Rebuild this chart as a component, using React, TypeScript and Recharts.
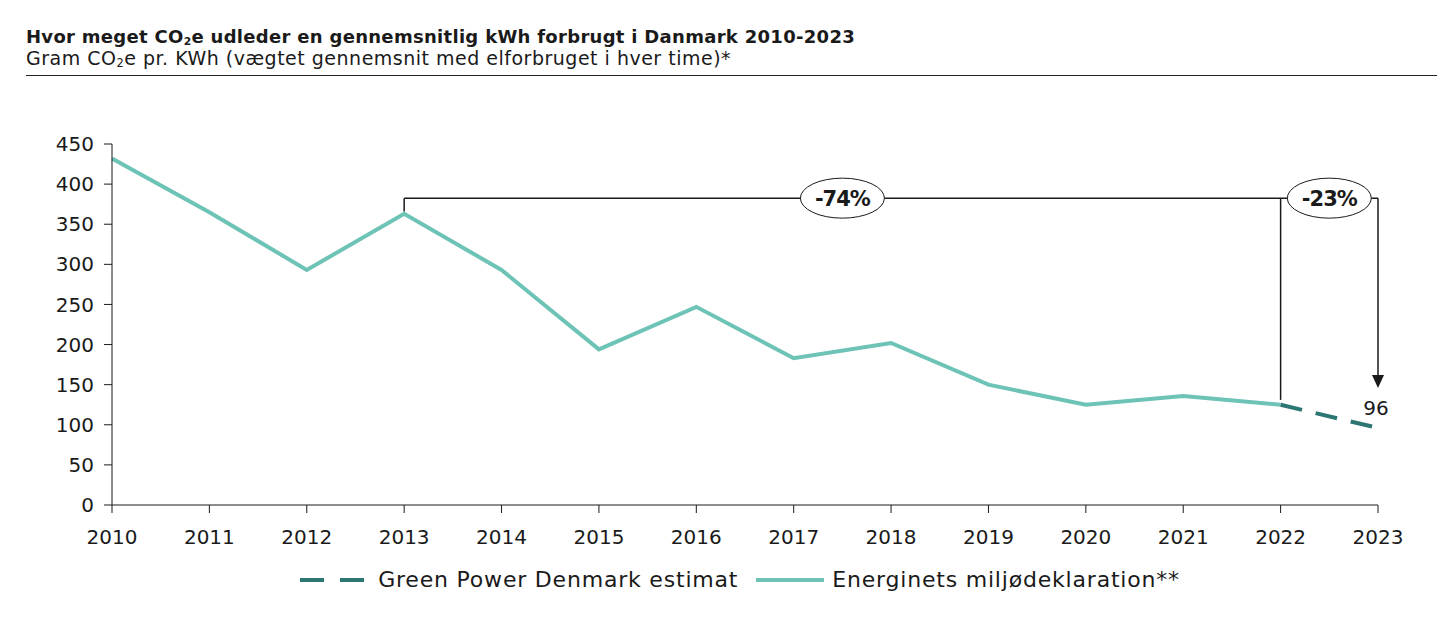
import { LineChart, Line, XAxis, YAxis, Legend, ReferenceLine, ReferenceDot, LabelList } from "recharts";

const years = [2010, 2011, 2012, 2013, 2014, 2015, 2016, 2017, 2018, 2019, 2020, 2021, 2022, 2023];
const energinet = [432, 365, 293, 363, 293, 194, 247, 183, 202, 150, 125, 136, 125, null];
const estimat = [null, null, null, null, null, null, null, null, null, null, null, null, 125, 96];
const yTicks = [0, 50, 100, 150, 200, 250, 300, 350, 400, 450];

const data = years.map((year, i) => ({ year, energinet: energinet[i], estimat: estimat[i] }));

const FONT = "'DejaVu Sans', sans-serif";
const TEAL = "#6DC3B6";
const DARK = "#2D7773";
const INK = "#1a1a1a";

const Bubble = (text: string) => (props: any) => {
  const { cx, cy } = props;
  return (
    <g>
      <ellipse cx={cx} cy={cy} rx={42} ry={20} fill="#fff" stroke={INK} strokeWidth={1} />
      <text x={cx} y={cy + 8} textAnchor="middle" fontFamily={FONT} fontWeight={700} fontSize={21} fill={INK} letterSpacing={-1}>
        {text}
      </text>
    </g>
  );
};

const ArrowHead = (props: any) => {
  const { cx, cy } = props;
  return <path d={`M${cx - 6},${cy - 13} L${cx + 6},${cy - 13} L${cx},${cy} Z`} fill={INK} />;
};

const renderLegend = () => (
  <div style={{ display: "flex", justifyContent: "center", alignItems: "center", fontFamily: FONT, fontSize: 22, letterSpacing: 0.8, color: INK, gap: 18, paddingLeft: 50 }}>
    <span style={{ display: "flex", alignItems: "center", gap: 8 }}>
      <svg width={70} height={10}>
        <line x1={0} y1={5} x2={70} y2={5} stroke={DARK} strokeWidth={4} strokeDasharray="24 16" />
      </svg>
      Green Power Denmark estimat
    </span>
    <span style={{ display: "flex", alignItems: "center", gap: 8 }}>
      <svg width={68} height={10}>
        <line x1={0} y1={5} x2={68} y2={5} stroke={TEAL} strokeWidth={4} />
      </svg>
      Energinets miljødeklaration**
    </span>
  </div>
);

const lastLabel = (props: any) => {
  const { x, y, index, value } = props;
  if (index !== 13) return null;
  return (
    <text x={x - 2} y={y - 13} textAnchor="middle" fontFamily={FONT} fontSize={20} fill={INK}>
      {value}
    </text>
  );
};

const subStyle = { fontSize: "0.6em", position: "relative" as const, top: "0.15em", lineHeight: 0, verticalAlign: "baseline" };

export default function App() {
  return (
    <div style={{ position: "relative", width: 1439, height: 609, fontFamily: FONT }}>
      <div style={{ position: "absolute", left: 18, top: 19, fontSize: 18, fontWeight: 700, color: INK, whiteSpace: "nowrap", lineHeight: "20px", letterSpacing: 0.3 }}>
        Hvor meget CO<span style={subStyle}>2</span>e udleder en gennemsnitlig kWh forbrugt i Danmark 2010-2023
      </div>
      <div style={{ position: "absolute", left: 18, top: 40, fontSize: 19, color: INK, whiteSpace: "nowrap", lineHeight: "20px", letterSpacing: 0.5 }}>
        Gram CO<span style={subStyle}>2</span>e pr. KWh (vægtet gennemsnit med elforbruget i hver time)*
      </div>
      <div style={{ position: "absolute", left: 18, top: 67, width: 1411, borderTop: "1px solid #222" }} />
      <div style={{ position: "absolute", left: 0, top: 100 }}>
        <LineChart width={1420} height={509} data={data} margin={{ top: 36, right: 50, left: 44, bottom: 0 }}>
          <XAxis
            dataKey="year"
            type="number"
            domain={[2010, 2023]}
            ticks={years}
            interval={0}
            height={62}
            stroke={INK}
            tickSize={8}
            tick={{ fontFamily: FONT, fontSize: 20, fill: INK, dy: 15 }}
          />
          <YAxis
            domain={[0, 450]}
            ticks={yTicks}
            width={60}
            stroke={INK}
            tickSize={8}
            tick={{ fontFamily: FONT, fontSize: 20, fill: INK, dx: -8 }}
          />
          <Legend verticalAlign="bottom" height={50} content={renderLegend} />
          <Line dataKey="energinet" stroke={TEAL} strokeWidth={4} dot={false} isAnimationActive={false} connectNulls={false} legendType="none" />
          <Line dataKey="estimat" stroke={DARK} strokeWidth={4} strokeDasharray="22 14" dot={false} isAnimationActive={false}>
            <LabelList dataKey="estimat" content={lastLabel} />
          </Line>
          <ReferenceLine segment={[{ x: 2013, y: 366 }, { x: 2013, y: 382.5 }]} stroke={INK} strokeWidth={1.5} />
          <ReferenceLine segment={[{ x: 2013, y: 382.5 }, { x: 2023, y: 382.5 }]} stroke={INK} strokeWidth={1.5} />
          <ReferenceLine segment={[{ x: 2022, y: 382.5 }, { x: 2022, y: 131 }]} stroke={INK} strokeWidth={1.5} />
          <ReferenceLine segment={[{ x: 2023, y: 382.5 }, { x: 2023, y: 155 }]} stroke={INK} strokeWidth={1.5} />
          <ReferenceDot x={2023} y={146} shape={ArrowHead} />
          <ReferenceDot x={2017.5} y={382.5} shape={Bubble("-74%")} />
          <ReferenceDot x={2022.5} y={382.5} shape={Bubble("-23%")} />
        </LineChart>
      </div>
    </div>
  );
}
